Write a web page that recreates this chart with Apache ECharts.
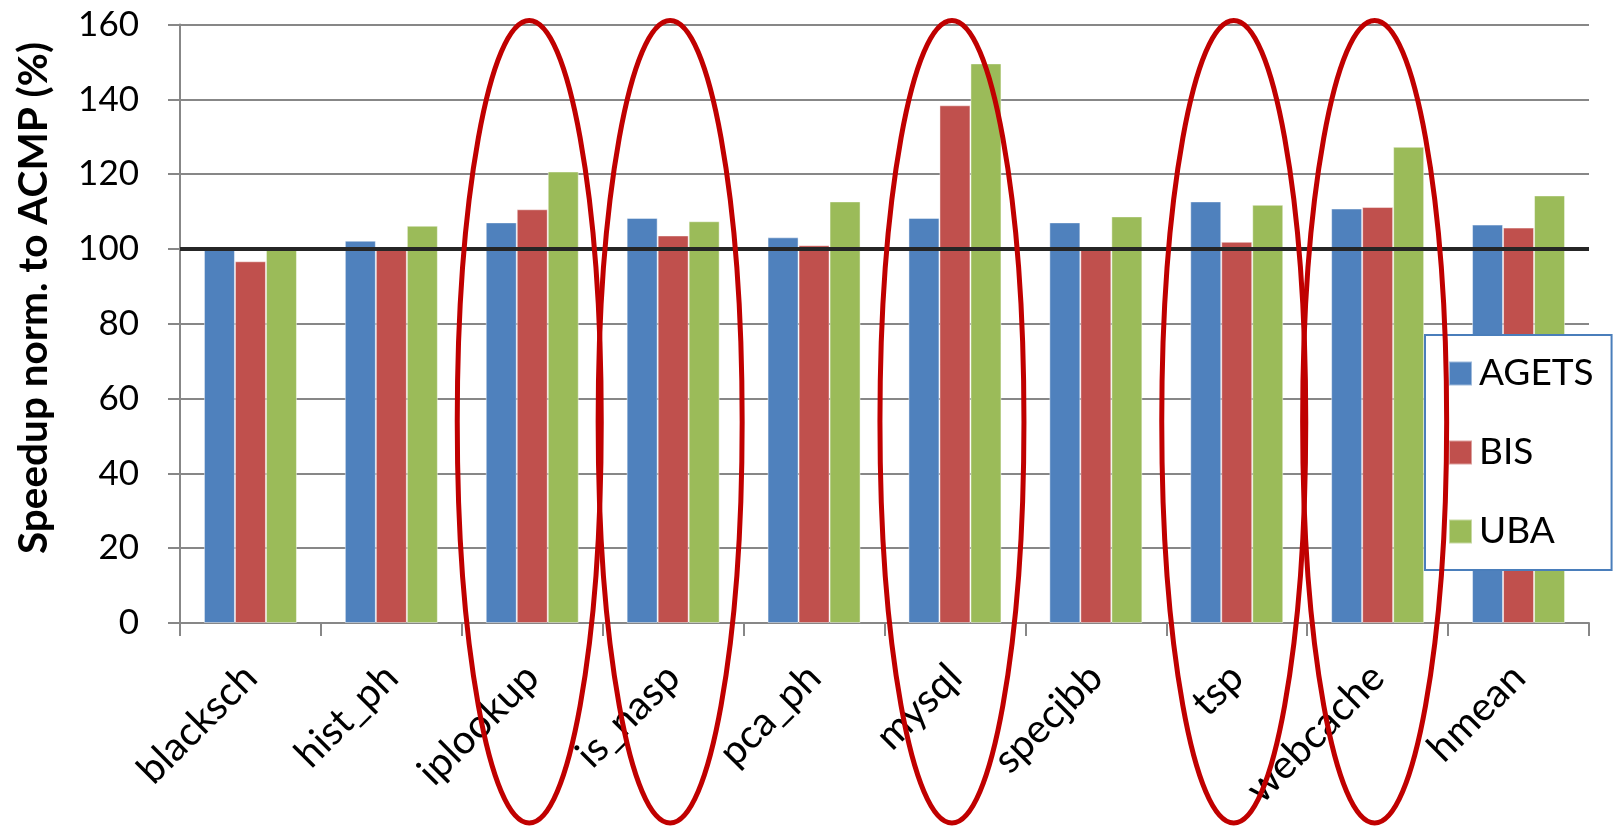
<!DOCTYPE html>
<html>
<head>
<meta charset="utf-8">
<script src="https://cdn.jsdelivr.net/npm/echarts@6/dist/echarts.min.js"></script>
<style>
html,body{margin:0;padding:0;background:#fff;}
#chart{width:1614px;height:826px;}
</style>
</head>
<body>
<div id="chart"></div>
<script>
const categories = ['blacksch','hist_ph','iplookup','is_nasp','pca_ph','mysql','specjbb','tsp','webcache','hmean'];
const seriesNames = ['AGETS','BIS','UBA'];
const agets = [100.0, 102.2, 107.1, 108.3, 103.1, 108.3, 107.1, 112.7, 110.8, 106.5];
const bis   = [96.7, 100.2, 110.6, 103.6, 101.0, 138.4, 100.0, 101.9, 111.2, 105.7];
const uba   = [100.0, 106.2, 120.7, 107.4, 112.7, 149.6, 108.7, 111.8, 127.3, 114.3];
const yTicks = [0, 20, 40, 60, 80, 100, 120, 140, 160];
const baseline = 100;
const highlighted = ['iplookup','is_nasp','mysql','tsp','webcache'];
const yTitle = 'Speedup norm. to ACMP (%)';

const colors = ['#4F81BD','#C0504D','#9BBB59'];
const FONT = 'Lato';
const gridColor = '#878787';

const chart = echarts.init(document.getElementById('chart'), null, {renderer:'canvas'});
const values = [agets, bis, uba];

const option = {
  animation: false,
  backgroundColor: '#fff',
  color: colors,
  grid: {left: 180, right: 25, top: 24.5, bottom: 203, containLabel: false},
  legend: {
    orient: 'vertical',
    left: 1425, top: 335,
    padding: [20, 18, 20, 23],
    itemGap: 42,
    itemWidth: 23, itemHeight: 24,
    backgroundColor: '#fff',
    borderColor: '#4A7EBB', borderWidth: 2, borderRadius: 0,
    icon: 'rect',
    textStyle: {fontFamily: FONT, fontSize: 37, color: '#000', padding: [0,0,0,2]},
    data: seriesNames,
    z: 10
  },
  xAxis: {
    type: 'category',
    data: categories,
    axisLine: {lineStyle: {color: gridColor, width: 2}},
    axisTick: {show: true, length: 13, lineStyle: {color: gridColor, width: 2}},
    axisLabel: {rotate: 45, margin: 48, padding: [28, 0, 0, 0], fontFamily: FONT, fontSize: 40, color: '#000', interval: 0}
  },
  yAxis: {
    type: 'value',
    min: 0, max: 160, interval: 20,
    axisLine: {show: true, lineStyle: {color: gridColor, width: 2}},
    axisTick: {show: true, length: 12, lineStyle: {color: gridColor, width: 2}},
    splitLine: {show: true, lineStyle: {color: gridColor, width: 2}},
    axisLabel: {margin: 41, fontFamily: FONT, fontSize: 35, color: '#000',
      formatter: v => yTicks.includes(v) ? String(v) : ''}
  },
  series: seriesNames.map((name, i) => ({
    name, type: 'bar',
    data: values[i],
    barGap: '0%', barCategoryGap: '34%',
    itemStyle: {color: colors[i], borderColor: 'rgba(255,255,255,0.45)', borderWidth: 1},
    markLine: i === 0 ? {
      silent: true, symbol: ['none','none'],
      label: {show: false},
      lineStyle: {color: '#262626', width: 4, type: 'solid'},
      data: [{yAxis: baseline}],
      z: 5
    } : undefined
  }))
};
chart.setOption(option);

// Annotations: red ellipses around highlighted categories, positioned through the axes
const topY = chart.convertToPixel({yAxisIndex: 0}, 160) - 4;
const botY = chart.convertToPixel({yAxisIndex: 0}, 0) + 200;
const graphics = highlighted.map(c => {
  const cx = chart.convertToPixel({xAxisIndex: 0}, c) - 3;
  return {
    type: 'ellipse', z: 100,
    shape: {cx: cx, cy: (topY + botY) / 2, rx: 72, ry: (botY - topY) / 2},
    style: {fill: null, stroke: '#C00000', lineWidth: 5}
  };
});
graphics.push({
  type: 'text', z: 50,
  x: 34, y: 298, rotation: Math.PI / 2,
  style: {text: yTitle, fontFamily: FONT, fontWeight: 'bold', fontSize: 40.5, fill: '#000',
    align: 'center', verticalAlign: 'middle'}
});
chart.setOption({graphic: graphics});
</script>
</body>
</html>
